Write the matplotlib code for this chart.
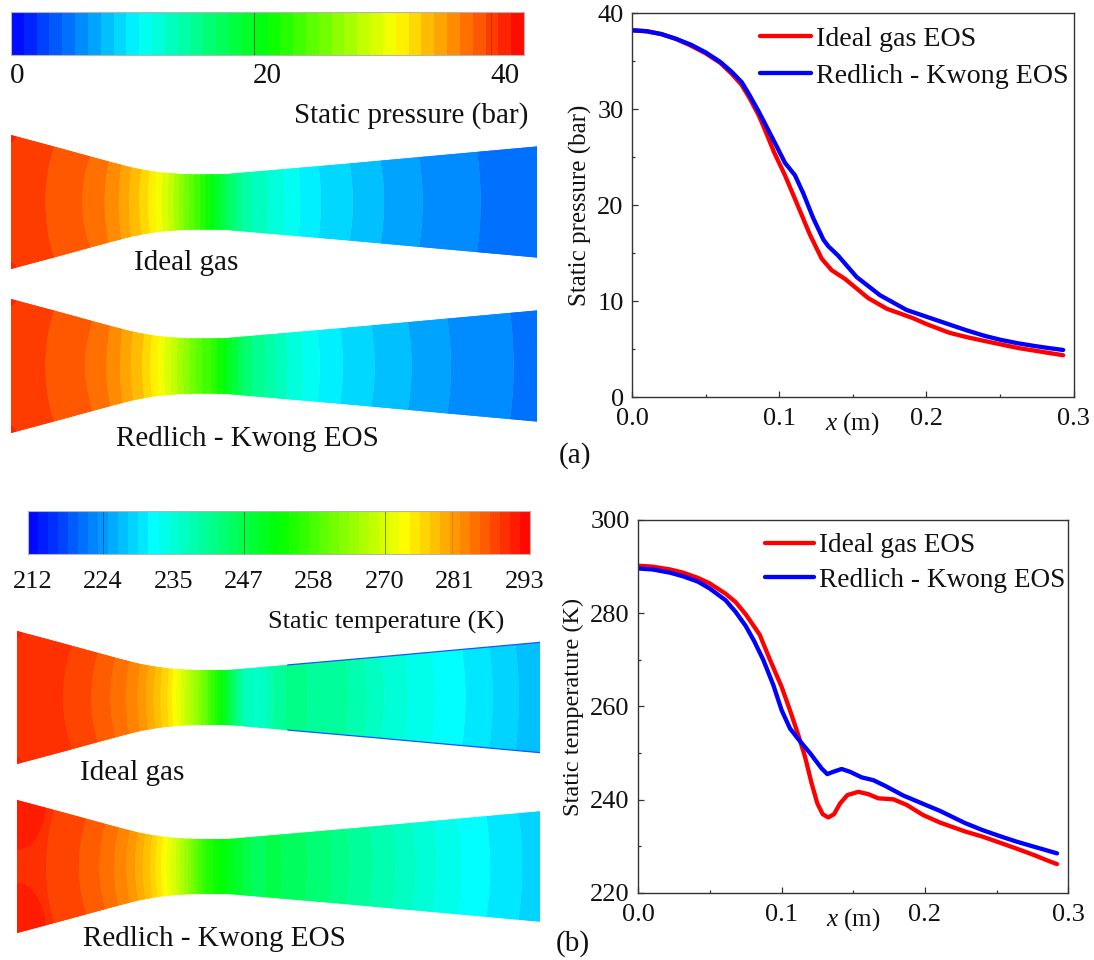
import numpy as np
import matplotlib
matplotlib.use("Agg")
import matplotlib.pyplot as plt
from matplotlib.colors import LinearSegmentedColormap, ListedColormap, BoundaryNorm

W, H = 1094, 960
plt.rcParams['font.family'] = ['Liberation Serif', 'DejaVu Serif']
plt.rcParams['mathtext.fontset'] = 'custom'
plt.rcParams['mathtext.it'] = 'Liberation Serif:italic'
plt.rcParams['mathtext.rm'] = 'Liberation Serif'

# ---------- line-plot data ----------
p_rk_x = [0, .01, .02, .03, .04, .05, .06, .0675, .0745, .08, .0862, .0926, .0983, .1039, .1107, .1164, .1232, .13,
          .1334, .1402, .1526, .1685, .1866, .207, .2272, .24, .2506, .262, .274, .283, .2929]
p_rk_y = [38.2, 38.1, 37.8, 37.3, 36.7, 35.9, 34.9, 33.9, 32.8, 31.4, 29.7, 27.8, 26.1, 24.4, 23.1, 21.2, 18.6, 16.4,
          15.7, 14.7, 12.5, 10.6, 9.06, 8.0, 6.95, 6.35, 5.95, 5.6, 5.3, 5.1, 4.9]
p_ig_x = [0, .01, .02, .03, .04, .05, .06, .0675, .0745, .08, .0862, .0904, .0965, .1039, .1119, .1209, .1289, .1357,
          .1447, .1605, .173, .1911, .2, .2154, .227, .239, .2624, .2929]
p_ig_y = [38.2, 38.1, 37.8, 37.3, 36.6, 35.8, 34.8, 33.7, 32.5, 31.1, 29.3, 27.8, 25.5, 23.1, 20.2, 16.9, 14.4, 13.2,
          12.3, 10.3, 9.2, 8.2, 7.6, 6.7, 6.25, 5.85, 5.1, 4.35]

t_ig_x = [0, .01, .0223, .0316, .0416, .05, .061, .068, .075, .0848, .092, .1001, .1059, .1117, .1164, .121, .125, .1287,
          .1326, .1366, .1408, .1459, .1535, .1605, .1675, .1779, .1872, .1988, .2105, .2279, .24, .2521, .264, .2763,
          .285, .292]
t_ig_y = [290.2, 290.0, 289.4, 288.7, 287.6, 286.4, 284.2, 282.4, 279.8, 275.4, 270.0, 264.2, 259.2, 253.9, 249.2, 243.5,
          239.2, 236.9, 236.2, 236.9, 239.2, 241.0, 241.7, 241.2, 240.3, 240.1, 238.9, 236.7, 235.1, 233.2, 232.1, 230.8,
          229.5, 228.1, 227.0, 226.2]
t_rk_x = [0, .01, .0223, .0316, .0416, .05, .061, .068, .075, .081, .0873, .0943, .1001, .1059, .1117, .1199, .128, .1319,
          .1361, .1419, .1477, .1559, .164, .1721, .1849, .1965, .2105, .2279, .24, .2521, .264, .2763, .292]
t_rk_y = [289.6, 289.4, 288.7, 287.9, 286.8, 285.3, 282.8, 280.3, 277.3, 274.0, 270.0, 264.6, 259.2, 255.3, 253.0, 250.0,
          246.7, 245.5, 246.0, 246.6, 246.0, 244.8, 244.2, 243.0, 240.9, 239.4, 237.6, 235.0, 233.5, 232.2, 231.0, 229.9,
          228.5]

# ---------- nozzle contour data ----------
wall_x = [0, .025, .044, .055, .067, .075, .081, .087, .094, .103, .118, .183, .29]
wall_h = [.0369, .0302, .0250, .0220, .0189, .0174, .0165, .0159, .0154, .0152, .0153, .0209, .0306]
bulge_x = [0, .025, .06, .1, .13, .2, .29]
bulge_v = [.004, .005, .002, 0, 0, -.002, -.002]
p_offset_x = [0, .025, .044, .055, .0615, .067, .09, .11]
p_offset_v = [1.4, 1.43, 1.68, 1.5, 1.17, .9, .5, 0]

p_range = (0.0, 42.2)
p_bands = 40
t_range = (211.7, 293.7)
t_bands = 50
p_bar_lines = [20, 39.5]
p_bar_alpha = [.6, .3]
t_bar_lines = [224, 247, 270, 281]
t_bar_alpha = [.5, .5, .5, .15]
p_bar_labels = ['0', '20', '40']
t_bar_labels = ['212', '224', '235', '247', '258', '270', '281', '293']

base = LinearSegmentedColormap.from_list('fluent', ['#0000ff', '#00ffff', '#00ff00', '#ffff00', '#ff0000'])

fig = plt.figure(figsize=(W / 100, H / 100), dpi=100)


def px_axes(x0, y0, x1, y1):
    return fig.add_axes([x0 / W, 1 - y1 / H, (x1 - x0) / W, (y1 - y0) / H])


def label(x, y, s, size=21):
    fig.text(x / W, 1 - y / H, s, ha='center', va='center', fontsize=size, color='#111111')


def bands(rng, n):
    lev = np.linspace(rng[0], rng[1], n + 1)
    cmap = ListedColormap(base((np.arange(n) + .5) / n))
    return lev, cmap, BoundaryNorm(lev, n)


def colorbar(box, rng, n, lines, alphas):
    lev, cmap, norm = bands(rng, n)
    ax = px_axes(*box)
    ax.pcolormesh(lev, [0, 1], ((lev[:-1] + lev[1:]) / 2)[None, :], cmap=cmap, norm=norm)
    for v, a in zip(lines, alphas):
        ax.axvline(v, color='#222222', lw=.7, alpha=a)
    ax.set_xticks([]); ax.set_yticks([])
    for s in ax.spines.values():
        s.set_color('#b5b5b5'); s.set_linewidth(.8)


def nozzle(box, xs, ys, rng, n, offset=None, lobe=(.003, .004), rim=False):
    lev, cmap, norm = bands(rng, n)
    ax = px_axes(*box)
    x = np.linspace(0, .29, 700)
    eta = np.linspace(-1, 1, 241)
    X, E = np.meshgrid(x, eta)
    h = np.interp(X, wall_x, wall_h)
    Y = E * h
    Xe = X + np.interp(X, bulge_x, bulge_v) * (1 - E ** 2)
    F = np.interp(Xe, xs, ys)
    if offset is not None:
        F = F + np.interp(X, offset[0], offset[1])
    r = np.hypot(X / lobe[0], (np.abs(Y) - wall_h[0]) / lobe[1])
    F = np.where(r < 1, F + (rng[1] - rng[0]) / n, F)
    ax.contourf(X, Y, F, levels=lev, cmap=cmap, norm=norm, extend='both', antialiased=True)
    ax.contourf(X, Y, F, levels=lev, cmap=cmap, norm=norm, extend='both', antialiased=True)
    if rim:
        xr = x[x > .15]
        hr = np.interp(xr, wall_x, wall_h)
        ax.plot(xr, hr, color='#1a55ff', lw=.9)
        ax.plot(xr, -hr, color='#1a55ff', lw=.9)
    ax.set_xlim(0, .29)
    ax.set_ylim(-wall_h[0], wall_h[0])
    ax.axis('off')


def curve_axes(box, ylim, yticks, ymin, ylabel, ylsize, ig, rk, leg_anchor, legsize, legspace):
    ax = px_axes(*box)
    ax.plot(*ig, color='#ff0000', lw=3.1, label='Ideal gas EOS', solid_capstyle='round', solid_joinstyle='round')
    ax.plot(*rk, color='#0000ff', lw=3.1, label='Redlich - Kwong EOS', solid_capstyle='round', solid_joinstyle='round')
    ax.set_xlim(0, .3); ax.set_ylim(*ylim)
    ax.set_xticks([0, .1, .2, .3]); ax.set_xticklabels(['0.0', '0.1', '0.2', '0.3'])
    ax.set_xticks([.05, .15, .25], minor=True)
    ax.set_yticks(yticks); ax.set_yticks(ymin, minor=True)
    ax.tick_params(which='major', direction='in', length=4.5, width=.9, color='#333333', labelsize=19,
                   labelcolor='#111111')
    ax.tick_params(which='minor', direction='in', length=2.4, width=.9, color='#333333')
    ax.tick_params(axis='x', which='major', pad=8)
    ax.tick_params(axis='y', which='major', pad=6)
    for s in ax.spines.values():
        s.set_color('#333333'); s.set_linewidth(1.0)
    ax.set_xlabel(r'$\mathit{x}$ (m)', fontsize=18, labelpad=-14.5, color='#111111')
    ax.set_ylabel(ylabel, fontsize=ylsize, labelpad=4, color='#111111')
    ax.legend(loc='upper left', bbox_to_anchor=leg_anchor, frameon=False, fontsize=legsize, handlelength=1.8,
              handletextpad=.2, labelspacing=legspace, borderpad=0, borderaxespad=0, labelcolor='#111111')
    return ax


# ---------- colour bars ----------
colorbar((11, 12, 524, 55), p_range, p_bands, p_bar_lines, p_bar_alpha)
colorbar((28, 511, 530, 554), t_range, t_bands, t_bar_lines, t_bar_alpha)
for px, s in zip([17, 267, 505], p_bar_labels):
    label(px, 76, s, 21)
for px, s in zip([33, 103, 174, 244, 314, 385, 455, 525], t_bar_labels):
    label(px, 582, s, 19)
label(411, 116, 'Static pressure (bar)', 21)
label(386, 622, 'Static temperature (K)', 19)

# ---------- nozzles ----------
p_off = (p_offset_x, p_offset_v)
nozzle((11, 135, 537, 269), p_ig_x, p_ig_y, p_range, p_bands, offset=p_off)
nozzle((11, 299, 537, 433), p_rk_x, p_rk_y, p_range, p_bands, offset=p_off)
nozzle((17, 631, 540, 764), t_ig_x, t_ig_y, t_range, t_bands, rim=True)
nozzle((17, 800, 540, 933), t_rk_x, t_rk_y, t_range, t_bands, lobe=(.0165, .028))
label(186, 263, 'Ideal gas')
label(247, 439, 'Redlich - Kwong EOS')
label(132, 773, 'Ideal gas')
label(214, 939, 'Redlich - Kwong EOS')

# ---------- curves ----------
curve_axes((632, 13, 1073.6, 397), (0, 40), [0, 10, 20, 30, 40], [5, 15, 25, 35],
           'Static pressure (bar)', 18, (p_ig_x, p_ig_y), (p_rk_x, p_rk_y), (.29, .966), 20.2, .40)
curve_axes((638, 520, 1068.5, 893), (220, 300), [220, 240, 260, 280, 300], [230, 250, 270, 290],
           'Static temperature (K)', 17.5, (t_ig_x, t_ig_y), (t_rk_x, t_rk_y), (.295, .965), 19.6, .35)
label(575, 456, '(a)')
label(573, 944, '(b)')

fig.savefig('out.png', dpi=100)
